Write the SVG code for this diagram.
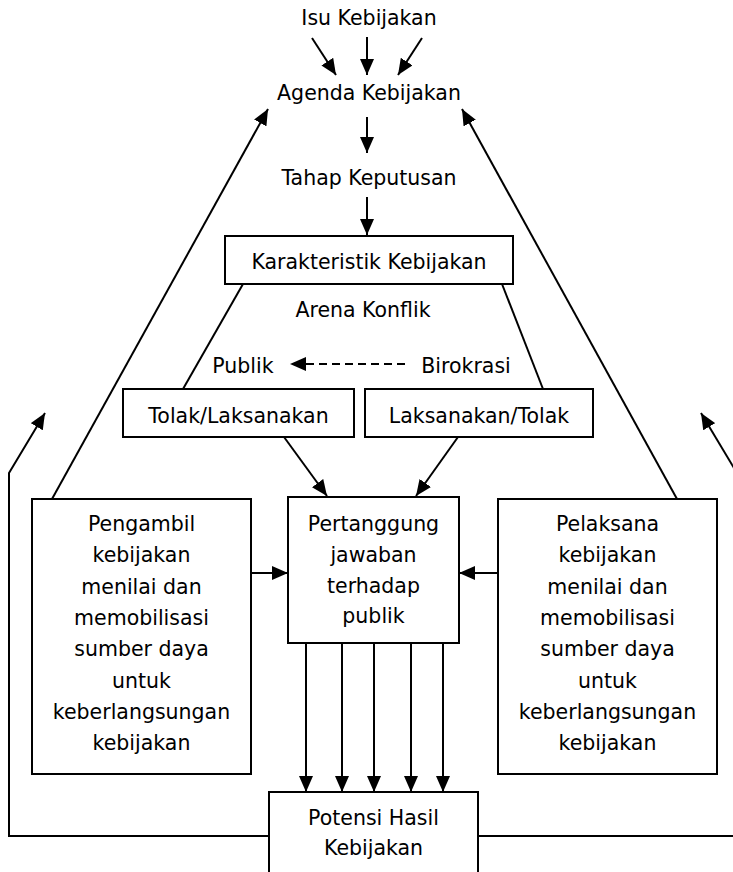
<svg xmlns="http://www.w3.org/2000/svg" width="733" height="872" viewBox="0 0 733 872">
<style>
text{font-family:"DejaVu Sans","Liberation Sans",sans-serif;font-size:20.5px;fill:#000;text-anchor:middle}
.box{fill:#fff;stroke:#000;stroke-width:2}
.ln{fill:none;stroke:#000;stroke-width:2}
.ar{marker-end:url(#ah)}
</style>
<defs>
<marker id="ah" markerUnits="userSpaceOnUse" markerWidth="16" markerHeight="14" viewBox="0 0 16 14" refX="16" refY="7" orient="auto">
<path d="M0,0 L16,7 L0,14 Z" fill="#000"/>
</marker>
</defs>
<g id="connectors">
<line class="ln ar" x1="312" y1="38" x2="336" y2="75"/>
<line class="ln ar" x1="367" y1="37" x2="367" y2="75"/>
<line class="ln ar" x1="422" y1="38" x2="398" y2="75"/>
<line class="ln ar" x1="367" y1="117" x2="367" y2="153"/>
<line class="ln ar" x1="367" y1="197" x2="367" y2="235"/>
<line class="ln" x1="243" y1="284" x2="183" y2="389"/>
<line class="ln" x1="502" y1="284" x2="543" y2="389"/>
<line class="ln ar" x1="405" y1="364" x2="290" y2="364" stroke-dasharray="8,5"/>
<line class="ln ar" x1="284" y1="437" x2="327" y2="496"/>
<line class="ln ar" x1="458" y1="437" x2="416" y2="496"/>
<line class="ln ar" x1="52" y1="499" x2="268" y2="109"/>
<line class="ln ar" x1="677" y1="499" x2="462" y2="109"/>
<line class="ln ar" x1="251" y1="573" x2="288" y2="573"/>
<line class="ln ar" x1="498" y1="573" x2="459" y2="573"/>
<line class="ln ar" x1="306" y1="643" x2="306" y2="792"/>
<line class="ln ar" x1="342" y1="643" x2="342" y2="792"/>
<line class="ln ar" x1="374" y1="643" x2="374" y2="792"/>
<line class="ln ar" x1="411" y1="643" x2="411" y2="792"/>
<line class="ln ar" x1="443" y1="643" x2="443" y2="792"/>
<polyline class="ln ar" points="269,836 9,836 9,473 45,413"/>
<line class="ln" x1="478" y1="836" x2="733" y2="836"/>
<line class="ln ar" x1="737" y1="473" x2="701" y2="413"/>
</g>
<g id="isu"><text x="369" y="25">Isu Kebijakan</text></g>
<g id="agenda"><text x="369" y="100">Agenda Kebijakan</text></g>
<g id="tahap"><text x="369" y="185">Tahap Keputusan</text></g>
<g id="karakteristik"><rect class="box" x="225" y="236" width="288" height="48"/><text x="369" y="269">Karakteristik Kebijakan</text></g>
<g id="arena"><text x="363" y="317">Arena Konflik</text></g>
<g id="publik"><text x="243" y="373">Publik</text></g>
<g id="birokrasi"><text x="466" y="373">Birokrasi</text></g>
<g id="tolak"><rect class="box" x="123" y="389" width="231" height="48"/><text x="238.5" y="423">Tolak/Laksanakan</text></g>
<g id="laksanakan"><rect class="box" x="365" y="389" width="228" height="48"/><text x="479" y="423">Laksanakan/Tolak</text></g>
<g id="pengambil"><rect class="box" x="32" y="499" width="219" height="275"/>
<text x="141.5" y="531">Pengambil</text><text x="141.5" y="562">kebijakan</text><text x="141.5" y="594">menilai dan</text><text x="141.5" y="625">memobilisasi</text><text x="141.5" y="656">sumber daya</text><text x="141.5" y="688">untuk</text><text x="141.5" y="719">keberlangsungan</text><text x="141.5" y="750">kebijakan</text></g>
<g id="pertanggung"><rect class="box" x="288" y="497" width="171" height="146"/>
<text x="373.5" y="531">Pertanggung</text><text x="373.5" y="562">jawaban</text><text x="373.5" y="593">terhadap</text><text x="373.5" y="623">publik</text></g>
<g id="pelaksana"><rect class="box" x="498" y="499" width="219" height="275"/>
<text x="607.5" y="531">Pelaksana</text><text x="607.5" y="562">kebijakan</text><text x="607.5" y="594">menilai dan</text><text x="607.5" y="625">memobilisasi</text><text x="607.5" y="656">sumber daya</text><text x="607.5" y="688">untuk</text><text x="607.5" y="719">keberlangsungan</text><text x="607.5" y="750">kebijakan</text></g>
<g id="potensi"><rect class="box" x="269" y="792" width="209" height="100"/>
<text x="373.5" y="825">Potensi Hasil</text><text x="373.5" y="855">Kebijakan</text></g>
</svg>
